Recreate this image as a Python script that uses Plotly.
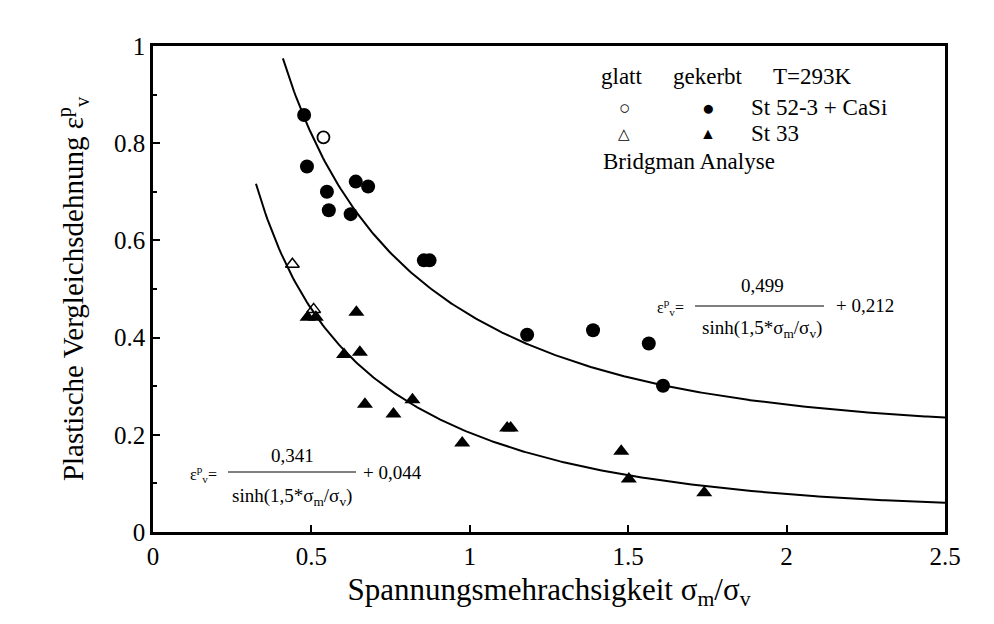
import numpy as np
import plotly.graph_objects as go

# ---- data ----
# St 52-3 + CaSi, gekerbt (filled circles)
st52_gek_x = [0.477, 0.486, 0.549, 0.555, 0.640, 0.679, 0.624, 0.855, 0.873, 1.181, 1.389, 1.565, 1.610]
st52_gek_y = [0.858, 0.752, 0.700, 0.662, 0.721, 0.711, 0.654, 0.559, 0.559, 0.406, 0.415, 0.388, 0.301]
# St 52-3 + CaSi, glatt (open circles)
st52_gla_x = [0.538]
st52_gla_y = [0.812]
# St 33, gekerbt (filled triangles)
st33_gek_x = [0.488, 0.514, 0.642, 0.603, 0.653, 0.669, 0.759, 0.819, 0.976, 1.118, 1.129, 1.478, 1.502, 1.740]
st33_gek_y = [0.442, 0.442, 0.452, 0.365, 0.370, 0.263, 0.243, 0.272, 0.183, 0.214, 0.214, 0.166, 0.109, 0.081]
# St 33, glatt (open triangles)
st33_gla_x = [0.440, 0.507]
st33_gla_y = [0.551, 0.458]

# fit coefficients printed in the chart: eps = a / sinh(1.5*x) + b
fit_upper = dict(a=0.499, b=0.212, x0=0.41, x1=2.5)
fit_lower = dict(a=0.341, b=0.044, x0=0.325, x1=2.5)

x_ticks = [0, 0.5, 1, 1.5, 2, 2.5]
x_tick_labels = ["0", "0.5", "1", "1.5", "2", "2.5"]
y_ticks = [0, 0.2, 0.4, 0.6, 0.8, 1]
y_tick_labels = ["0", "0.2", "0.4", "0.6", "0.8", "1"]

FONT = "Liberation Serif"

fig = go.Figure()

for fit in (fit_upper, fit_lower):
    xs = np.linspace(fit["x0"], fit["x1"], 300)
    ys = fit["a"] / np.sinh(1.5 * xs) + fit["b"]
    fig.add_trace(go.Scatter(x=xs, y=ys, mode="lines",
                             line=dict(color="black", width=2), hoverinfo="skip"))

fig.add_trace(go.Scatter(x=st52_gek_x, y=st52_gek_y, mode="markers",
                         marker=dict(symbol="circle", size=14, color="black")))
fig.add_trace(go.Scatter(x=st52_gla_x, y=st52_gla_y, mode="markers",
                         marker=dict(symbol="circle-open", size=12, color="black", line=dict(width=1.8))))
fig.add_trace(go.Scatter(x=st33_gek_x, y=st33_gek_y, mode="markers",
                         marker=dict(symbol="triangle-up", size=14, color="black")))
fig.add_trace(go.Scatter(x=st33_gla_x, y=st33_gla_y, mode="markers",
                         marker=dict(symbol="triangle-up-open", size=12, color="black", line=dict(width=1.5))))

# plot area in pixels: left 153, right 945, top 46, bottom 532
L, R, T, B = 153, 945, 46, 532
def px(x):
    return (x - L) / (R - L)
def py(y):
    return (B - y) / (B - T)

ann = []
def txt(x, y, s, size=23, xanchor="left"):
    ann.append(dict(x=px(x), y=py(y), xref="paper", yref="paper", text=s, showarrow=False,
                    xanchor=xanchor, yanchor="middle", font=dict(size=size, family=FONT, color="black")))

# legend block
txt(599, 76, "glatt")
txt(671, 76, "gekerbt")
txt(771, 76, "T=293K")
txt(624, 108, "○", size=19, xanchor="center")
txt(708, 108, "●", size=21, xanchor="center")
txt(749, 108, "St 52-3 + CaSi")
txt(624, 134, "△", size=15, xanchor="center")
txt(708, 134, "▲", size=16, xanchor="center")
txt(749, 134, "St 33")
txt(601, 161, "Bridgman Analyse")

# upper formula
FS = 19
eps = "ε<sup>p</sup><sub>v</sub>="
txt(655, 307, eps, size=16)
txt(762, 285, "0,499", size=FS, xanchor="center")
txt(762, 329, "sinh(1,5*σ<sub>m</sub>/σ<sub>v</sub>)", size=FS, xanchor="center")
txt(834, 305, "+ 0,212", size=FS)
# lower formula
txt(188, 474, eps, size=16)
txt(292, 455, "0,341", size=FS, xanchor="center")
txt(292, 497, "sinh(1,5*σ<sub>m</sub>/σ<sub>v</sub>)", size=FS, xanchor="center")
txt(361, 472, "+ 0,044", size=FS)

shapes = [
    dict(type="line", xref="paper", yref="paper", x0=px(695), x1=px(824), y0=py(306), y1=py(306),
         line=dict(color="black", width=1)),
    dict(type="line", xref="paper", yref="paper", x0=px(228), x1=px(356), y0=py(472), y1=py(472),
         line=dict(color="black", width=1)),
]

fig.update_layout(
    width=994, height=624,
    margin=dict(l=L, r=994 - R, t=T, b=624 - B),
    paper_bgcolor="white", plot_bgcolor="white",
    showlegend=False,
    font=dict(family=FONT, color="black"),
    annotations=ann, shapes=shapes,
    xaxis=dict(range=[0, 2.5], tickvals=x_ticks, ticktext=x_tick_labels,
               ticks="inside", ticklen=7, tickwidth=1.5, tickcolor="black",
               showline=True, linecolor="black", linewidth=2.5, mirror=True,
               showgrid=False, zeroline=False, tickfont=dict(size=25, family=FONT),
               title=dict(text="Spannungsmehrachsigkeit σ<sub>m</sub>/σ<sub>v</sub>",
                          font=dict(size=31, family=FONT), standoff=10)),
    yaxis=dict(range=[0, 1], tickvals=y_ticks, ticktext=y_tick_labels,
               ticks="inside", ticklen=7, tickwidth=1.5, tickcolor="black",
               minor=dict(ticks="inside", dtick=0.1, ticklen=4, tickcolor="black"),
               showline=True, linecolor="black", linewidth=2.5, mirror=True,
               showgrid=False, zeroline=False, tickfont=dict(size=25, family=FONT),
               title=dict(text="Plastische Vergleichsdehnung ε<sup>p</sup><sub>v</sub>",
                          font=dict(size=29, family=FONT), standoff=22)),
)

fig.write_html("out.html")
